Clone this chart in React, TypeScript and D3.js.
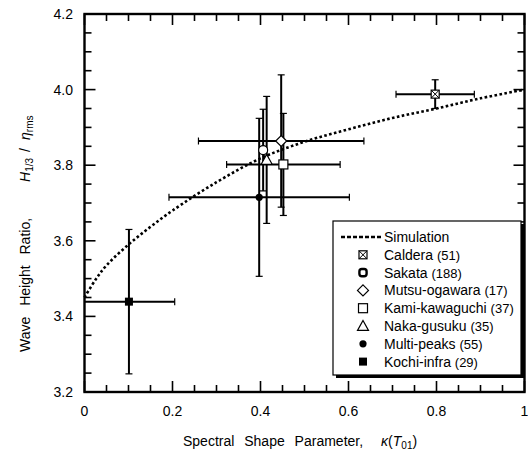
import React, { useEffect, useRef } from 'react';
import * as d3 from 'd3';

const sites = ['Caldera', 'Sakata', 'Mutsu-ogawara', 'Kami-kawaguchi', 'Naka-gusuku', 'Multi-peaks', 'Kochi-infra'];
const counts = [51, 188, 17, 37, 35, 55, 29];
const markerTypes = ['boxX', 'circle', 'diamond', 'square', 'triangle', 'dot', 'filledSquare'];
const kappa = [0.797, 0.406, 0.447, 0.452, 0.414, 0.397, 0.101];
const ratio = [3.988, 3.84, 3.864, 3.802, 3.814, 3.715, 3.439];
const kappaErr = [0.089, 0, 0.188, 0.129, 0, 0.205, 0.104];
const ratioErr = [0.038, 0.108, 0.175, 0.135, 0.168, 0.209, 0.191];

const simKappa = [0, 0.025, 0.05, 0.1, 0.15, 0.2, 0.3, 0.4, 0.5, 0.6, 0.7, 0.8, 0.9, 1.0];
const simRatio = [3.45, 3.497, 3.535, 3.59, 3.637, 3.68, 3.755, 3.818, 3.862, 3.895, 3.925, 3.95, 3.977, 4.0];

const xTicks = [0, 0.2, 0.4, 0.6, 0.8, 1];
const xTickLabels = ['0', '0.2', '0.4', '0.6', '0.8', '1'];
const yTicks = [3.2, 3.4, 3.6, 3.8, 4.0, 4.2];
const yTickLabels = ['3.2', '3.4', '3.6', '3.8', '4.0', '4.2'];

const FONT = "'Liberation Sans', Arial, Helvetica, sans-serif";

function drawMarker(g: any, type: string, cx: number, cy: number, legend = false) {
  const s = 4.5;
  switch (type) {
    case 'boxX': {
      const h = 4;
      g.append('rect').attr('x', cx - h).attr('y', cy - h).attr('width', 2 * h).attr('height', 2 * h)
        .attr('fill', '#fff').attr('stroke', '#000').attr('stroke-width', 1.2);
      g.append('path').attr('d', `M${cx - h},${cy - h}L${cx + h},${cy + h}M${cx + h},${cy - h}L${cx - h},${cy + h}`)
        .attr('stroke', '#000').attr('stroke-width', 1);
      break;
    }
    case 'circle':
      if (legend) {
        g.append('rect').attr('x', cx - 3.6).attr('y', cy - 3.6).attr('width', 7.2).attr('height', 7.2).attr('rx', 2.5)
          .attr('fill', '#fff').attr('stroke', '#000').attr('stroke-width', 2.4);
      } else {
        g.append('circle').attr('cx', cx).attr('cy', cy).attr('r', s)
          .attr('fill', '#fff').attr('stroke', '#000').attr('stroke-width', 1.2);
      }
      break;
    case 'diamond': {
      const d = 5.5;
      g.append('path').attr('d', `M${cx},${cy - d}L${cx + d},${cy}L${cx},${cy + d}L${cx - d},${cy}Z`)
        .attr('fill', '#fff').attr('stroke', '#000').attr('stroke-width', 1.2);
      break;
    }
    case 'square':
      g.append('rect').attr('x', cx - s).attr('y', cy - s).attr('width', 2 * s).attr('height', 2 * s)
        .attr('fill', '#fff').attr('stroke', '#000').attr('stroke-width', 1.2);
      break;
    case 'triangle': {
      const t = 5.5;
      g.append('path').attr('d', `M${cx},${cy - t}L${cx + t},${cy + t * 0.8}L${cx - t},${cy + t * 0.8}Z`)
        .attr('fill', '#fff').attr('stroke', '#000').attr('stroke-width', 1.2);
      break;
    }
    case 'dot':
      g.append('circle').attr('cx', cx).attr('cy', cy).attr('r', 3.6).attr('fill', '#000');
      break;
    case 'filledSquare':
      g.append('rect').attr('x', cx - 4).attr('y', cy - 4).attr('width', 8).attr('height', 8).attr('fill', '#000');
      break;
  }
}

export default function App() {
  const ref = useRef<SVGSVGElement>(null);

  useEffect(() => {
    const svg = d3.select(ref.current);
    svg.selectAll('*').remove();

    const X0 = 84.5, X1 = 524.5, Y0 = 14, Y1 = 392;
    const x = d3.scaleLinear().domain([0, 1]).range([X0, X1]);
    const y = d3.scaleLinear().domain([3.2, 4.2]).range([Y1, Y0]);

    // ticks (inward on all four sides)
    const minorX = d3.range(0, 1.0001, 0.05);
    const minorY = d3.range(3.2, 4.2001, 0.05);
    const tk = svg.append('g').attr('stroke', '#000').attr('stroke-width', 1.6);
    const isMajor = (v: number, step: number, base: number) => Math.abs(((v - base) / step) - Math.round((v - base) / step)) < 1e-6;
    minorX.forEach(v => {
      const len = isMajor(v, 0.2, 0) ? 11 : 7;
      tk.append('line').attr('x1', x(v)).attr('x2', x(v)).attr('y1', Y1).attr('y2', Y1 - len);
      tk.append('line').attr('x1', x(v)).attr('x2', x(v)).attr('y1', Y0).attr('y2', Y0 + len);
    });
    minorY.forEach(v => {
      const len = isMajor(v, 0.2, 3.2) ? 11 : 7;
      tk.append('line').attr('x1', X0).attr('x2', X0 + len).attr('y1', y(v)).attr('y2', y(v));
      tk.append('line').attr('x1', X1).attr('x2', X1 - len).attr('y1', y(v)).attr('y2', y(v));
    });

    // frame
    svg.append('rect').attr('x', X0).attr('y', Y0).attr('width', X1 - X0).attr('height', Y1 - Y0)
      .attr('fill', 'none').attr('stroke', '#000').attr('stroke-width', 2.4);

    // tick labels
    const lab = svg.append('g').attr('font-family', FONT).attr('font-size', 14).attr('fill', '#000');
    xTicks.forEach((v, i) => {
      lab.append('text').attr('x', x(v)).attr('y', 416).attr('text-anchor', 'middle').text(xTickLabels[i]);
    });
    yTicks.forEach((v, i) => {
      lab.append('text').attr('x', 73).attr('y', y(v) + 5).attr('text-anchor', 'end').text(yTickLabels[i]);
    });

    // error bars
    const eb = svg.append('g').attr('stroke', '#000');
    const cap = 3.5;
    sites.forEach((_, i) => {
      const cx = x(kappa[i]), cy = y(ratio[i]);
      if (ratioErr[i] > 0) {
        const yt = y(ratio[i] + ratioErr[i]), yb = y(ratio[i] - ratioErr[i]);
        eb.append('line').attr('x1', cx).attr('x2', cx).attr('y1', yt).attr('y2', yb).attr('stroke-width', 2);
        eb.append('line').attr('x1', cx - cap).attr('x2', cx + cap).attr('y1', yt).attr('y2', yt).attr('stroke-width', 1.2);
        eb.append('line').attr('x1', cx - cap).attr('x2', cx + cap).attr('y1', yb).attr('y2', yb).attr('stroke-width', 1.2);
      }
      if (kappaErr[i] > 0) {
        const lo = kappa[i] - kappaErr[i], hi = kappa[i] + kappaErr[i];
        const xl = x(Math.max(0, lo)), xr = x(hi);
        eb.append('line').attr('x1', xl).attr('x2', xr).attr('y1', cy).attr('y2', cy).attr('stroke-width', 2);
        if (lo >= 0) eb.append('line').attr('x1', xl).attr('x2', xl).attr('y1', cy - cap).attr('y2', cy + cap).attr('stroke-width', 1.2);
        eb.append('line').attr('x1', xr).attr('x2', xr).attr('y1', cy - cap).attr('y2', cy + cap).attr('stroke-width', 1.2);
      }
    });

    // simulation curve
    const line = d3.line<number>().x((_, i) => x(simKappa[i])).y(d => y(d)).curve(d3.curveCatmullRom.alpha(0.5));
    svg.append('path').attr('d', line(simRatio) as string).attr('fill', 'none').attr('stroke', '#000')
      .attr('stroke-width', 2.6).attr('stroke-dasharray', '2.6 2.4');

    // markers
    const mk = svg.append('g');
    sites.forEach((_, i) => drawMarker(mk, markerTypes[i], x(kappa[i]), y(ratio[i])));

    // legend
    const lg = svg.append('g');
    const LX = 333, LY = 221, LW = 188, LH = 154;
    lg.append('rect').attr('x', LX + 3).attr('y', LY + 3).attr('width', LW).attr('height', LH).attr('fill', '#000');
    lg.append('rect').attr('x', LX).attr('y', LY).attr('width', LW).attr('height', LH)
      .attr('fill', '#fff').attr('stroke', '#000').attr('stroke-width', 1.2);
    const rowY = (k: number) => 237 + k * 17.8;
    lg.append('line').attr('x1', 341).attr('x2', 381).attr('y1', rowY(0)).attr('y2', rowY(0))
      .attr('stroke', '#000').attr('stroke-width', 2.6).attr('stroke-dasharray', '4 2');
    lg.append('text').attr('x', 384).attr('y', rowY(0) + 5).attr('font-family', FONT).attr('font-size', 14).text('Simulation');
    sites.forEach((s, i) => {
      const yy = rowY(i + 1);
      drawMarker(lg, markerTypes[i], 363, yy, true);
      const t = lg.append('text').attr('x', 384).attr('y', yy + 5).attr('font-family', FONT).attr('font-size', 14);
      t.append('tspan').text(s + ' ');
      t.append('tspan').attr('font-size', 13).text(`(${counts[i]})`);
    });

    // axis titles
    const xt = svg.append('text').attr('x', 183).attr('y', 446).attr('font-family', FONT).attr('font-size', 14)
      .attr('word-spacing', 6);
    xt.append('tspan').text('Spectral Shape Parameter,');
    xt.append('tspan').attr('dx', 18).attr('font-style', 'italic').text('κ');
    xt.append('tspan').text('(');
    xt.append('tspan').attr('font-style', 'italic').text('T');
    xt.append('tspan').attr('font-size', 10).attr('dy', 3).text('01');
    xt.append('tspan').attr('dy', -3).text(')');

    const yt = svg.append('text').attr('transform', 'translate(30,352) rotate(-90)').attr('text-anchor', 'start')
      .attr('font-family', FONT).attr('font-size', 14).attr('word-spacing', 7);
    yt.append('tspan').text('Wave Height Ratio,');
    yt.append('tspan').attr('dx', 36).attr('font-style', 'italic').text('H');
    yt.append('tspan').attr('font-size', 10).attr('dy', 3).text('1/3');
    yt.append('tspan').attr('dy', -3).attr('dx', 6).text('/');
    yt.append('tspan').attr('dx', 8).attr('font-style', 'italic').text('η');
    yt.append('tspan').attr('font-size', 10).attr('dy', 3).text('rms');
  }, []);

  return (
    <svg ref={ref} width={528} height={455}
      style={{ position: 'absolute', left: 0, top: 0, background: '#fff' }} />
  );
}
